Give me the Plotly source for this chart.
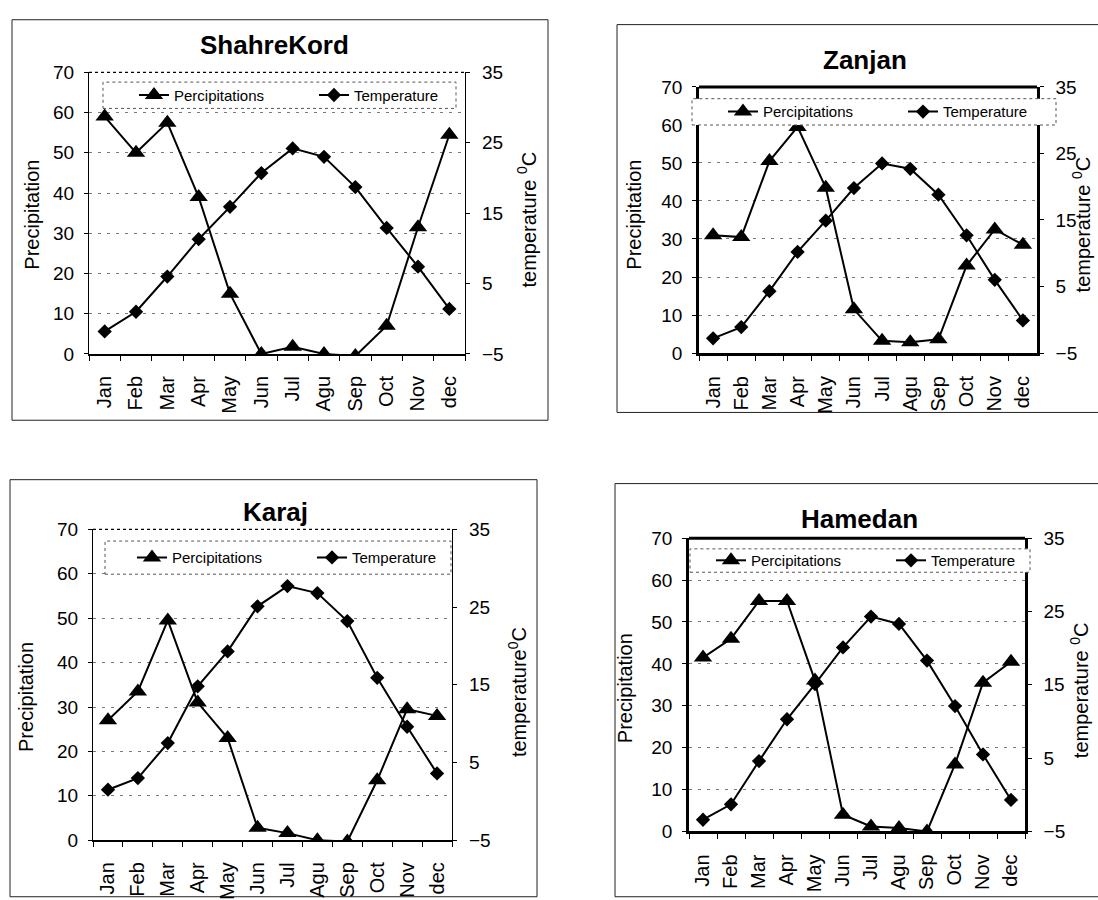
import plotly.graph_objects as go

W, H = 1098, 900
FONT = "Liberation Sans, Arial, sans-serif"

months = ["Jan", "Feb", "Mar", "Apr", "May", "Jun", "Jul", "Agu", "Sep", "Oct", "Nov", "dec"]
stations = ["ShahreKord", "Zanjan", "Karaj", "Hamedan"]

shahrekord_precip = [59, 50, 57.5, 39, 15, 0, 1.8, 0, -0.5, 7, 31.5, 54.5]
shahrekord_temp = [-1.8, 1.0, 6.0, 11.3, 15.9, 20.7, 24.2, 23.0, 18.7, 12.9, 7.4, 1.4]
zanjan_precip = [31, 30.5, 50.5, 59.5, 43.5, 11.5, 3.2, 2.8, 3.6, 23, 32.5, 28.5]
zanjan_temp = [-2.8, -1.1, 4.3, 10.2, 14.9, 19.8, 23.5, 22.7, 18.8, 12.7, 6.0, -0.1]
karaj_precip = [27, 33.5, 49.5, 31, 23, 2.8, 1.6, 0, -0.3, 13.5, 29.5, 28]
karaj_temp = [1.5, 3.0, 7.5, 14.8, 19.3, 25.1, 27.7, 26.8, 23.2, 15.9, 9.6, 3.6]
hamedan_precip = [41.5, 46, 55, 55, 36, 4, 1.2, 0.8, 0, 16, 35.5, 40.5]
hamedan_temp = [-3.4, -1.3, 4.6, 10.3, 15.1, 20.1, 24.3, 23.3, 18.3, 12.1, 5.5, -0.7]

precip_series = [shahrekord_precip, zanjan_precip, karaj_precip, hamedan_precip]
temp_series = [shahrekord_temp, zanjan_temp, karaj_temp, hamedan_temp]

precip_name = "Percipitations"
temp_name = "Temperature"
precip_title = "Precipitation"
temp_titles = ["temperature <sup>0</sup>C", "temperature <sup>0</sup>C",
               "temperature<sup>0</sup>C", "temperature <sup>0</sup>C"]


def px(x):
    return x / W


def py(y):
    return 1 - y / H


# layout geometry (pixels): plot area, title, legend box, axis titles, panel box
panels = [
    dict(plot=(89, 465, 64, 353), title=(274, 36), leg=(103, 456, 74, 101), text1=175,
         ytitle=(32, 210), y2title=(527, 215), box=(12, 548, 10, 421), thick=False),
    dict(plot=(699, 1037, 79, 352), title=(865, 51), leg=(692, 1056, 91, 118), text1=764,
         ytitle=(634, 210), y2title=(1081, 220), box=(617, 1110, 15, 413), thick=True),
    dict(plot=(93, 452, 533, 852), title=(275, 515), leg=(105, 451, 545, 579), text1=173,
         ytitle=(26, 705), y2title=(517, 700), box=(10, 537, 482, 910), thick=False),
    dict(plot=(689, 1025, 542, 843), title=(859, 522), leg=(690, 1030, 553, 577), text1=752,
         ytitle=(625, 696), y2title=(1079, 698), box=(615, 1110, 486, 910), thick=True),
]

fig = go.Figure()
shapes = []
annotations = []
layout = {}

for i, p in enumerate(panels, start=1):
    xs = "" if i == 1 else str(i)
    yp = 2 * i - 1
    yt = 2 * i
    yp_s = "" if yp == 1 else str(yp)
    lw = 2.5 if p["thick"] else 1.2
    bw = 3 if p["thick"] else 2
    legname = "legend" if i == 1 else f"legend{i}"

    fig.add_trace(go.Scatter(
        x=months, y=precip_series[i - 1], name=precip_name, mode="lines+markers",
        xaxis=f"x{xs}", yaxis=f"y{yp_s}", legend=legname,
        line=dict(color="black", width=2),
        marker=dict(symbol="triangle-up", size=16, color="black")))
    fig.add_trace(go.Scatter(
        x=months, y=temp_series[i - 1], name=temp_name, mode="lines+markers",
        xaxis=f"x{xs}", yaxis=f"y{yt}", legend=legname,
        line=dict(color="black", width=2),
        marker=dict(symbol="diamond", size=11, color="black")))

    l, r, t, b = p["plot"]
    layout[f"xaxis{xs}"] = dict(
        domain=[px(l), px(r)], anchor=f"y{yp_s}", type="category",
        range=[-0.5, 11.5], tickson="boundaries", ticks="outside", ticklen=5,
        tickcolor="black", showline=True, linecolor="black", linewidth=bw,
        tickangle=-90, tickfont=dict(size=20, color="black", family=FONT),
        ticklabelstandoff=12, showgrid=False, zeroline=False)
    layout[f"yaxis{yp_s}"] = dict(
        domain=[py(b), py(t)], anchor=f"x{xs}", range=[0, 70], dtick=10,
        ticks="outside", ticklen=4, tickcolor="black", showline=True,
        linecolor="black", linewidth=lw, showgrid=True, gridcolor="#7a7a7a",
        griddash="3px,6px", gridwidth=1, zeroline=False,
        tickfont=dict(size=19, color="black", family=FONT), ticklabelstandoff=6)
    layout[f"yaxis{yt}"] = dict(
        overlaying=f"y{yp_s}", anchor=f"x{xs}", side="right", range=[-5, 35],
        tick0=-5, dtick=10, ticks="outside", ticklen=4, tickcolor="black",
        showline=True, linecolor="black", linewidth=lw, showgrid=False,
        zeroline=False, tickfont=dict(size=19, color="black", family=FONT),
        ticklabelstandoff=8)

    # top frame of the plot area
    shapes.append(dict(type="line", xref="paper", yref="paper",
                       x0=px(l), x1=px(r), y0=py(t), y1=py(t),
                       line=dict(color="black", width=3 if p["thick"] else 1.2,
                                 dash="solid" if p["thick"] else "dot")))
    # legend box (white, dashed border)
    ll, lr, lt, lb = p["leg"]
    shapes.append(dict(type="rect", xref="paper", yref="paper", layer="above",
                       x0=px(ll), x1=px(lr), y0=py(lb), y1=py(lt),
                       fillcolor="white", line=dict(color="#555", width=1, dash="dot")))
    # panel border
    bl, br, bt, bb = p["box"]
    shapes.append(dict(type="rect", xref="paper", yref="paper", layer="below",
                       x0=px(bl), x1=px(br), y0=py(bb), y1=py(bt),
                       line=dict(color="#222", width=1)))

    layout[legname] = dict(
        x=px(p["text1"] - 41), y=py((lt + lb) / 2), xanchor="left", yanchor="middle",
        orientation="h", bgcolor="rgba(0,0,0,0)", borderwidth=0,
        font=dict(size=15, color="black", family=FONT),
        entrywidth=135, entrywidthmode="pixels", itemwidth=30)

    tx, ty = p["title"]
    annotations.append(dict(text=f"<b>{stations[i - 1]}</b>", x=px(tx), y=py(ty),
                            xref="paper", yref="paper", showarrow=False,
                            xanchor="center", yanchor="middle",
                            font=dict(size=26, color="black", family=FONT)))
    ax_, ay_ = p["ytitle"]
    annotations.append(dict(text=precip_title, x=px(ax_), y=py(ay_), xref="paper",
                            yref="paper", showarrow=False, textangle=-90,
                            xanchor="center", yanchor="middle",
                            font=dict(size=20, color="black", family=FONT)))
    bx_, by_ = p["y2title"]
    annotations.append(dict(text=temp_titles[i - 1], x=px(bx_), y=py(by_), xref="paper",
                            yref="paper", showarrow=False, textangle=-90,
                            xanchor="center", yanchor="middle",
                            font=dict(size=20, color="black", family=FONT)))

fig.update_layout(
    width=W, height=H, autosize=False,
    margin=dict(l=0, r=0, t=0, b=0),
    paper_bgcolor="white", plot_bgcolor="white",
    font=dict(family=FONT, color="black"),
    shapes=shapes, annotations=annotations,
    **layout)

fig.write_html("out.html", config={"displayModeBar": False},
               post_script="document.body.style.margin='0px';")
